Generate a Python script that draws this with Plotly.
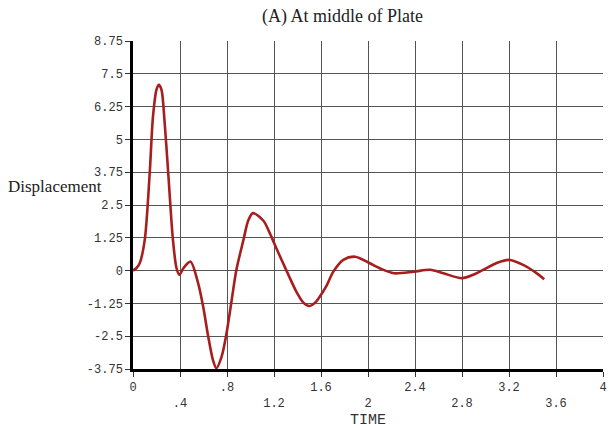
import plotly.graph_objects as go

# Data
time = [0, 0.03, 0.057, 0.1, 0.142, 0.17, 0.2, 0.22, 0.242, 0.27, 0.3, 0.34, 0.37,
        0.395, 0.43, 0.49, 0.554, 0.597, 0.64, 0.68, 0.71, 0.754, 0.796, 0.84, 0.88,
        0.94, 0.98, 1.02, 1.11, 1.165, 1.22, 1.31, 1.39, 1.45, 1.5, 1.55, 1.59, 1.65,
        1.705, 1.79, 1.89, 2.015, 2.1, 2.22, 2.39, 2.53, 2.64, 2.8, 2.9, 2.98, 3.1,
        3.2, 3.32, 3.42, 3.5]
displacement = [0, 0.1, 0.28, 1.17, 3.7, 5.87, 6.9, 7.08, 6.9, 5.6, 3.7, 1.17, 0.1,
                -0.16, 0.1, 0.34, -0.48, -1.37, -2.51, -3.4, -3.72, -3.28, -2.39, -1.12, 0.03,
                1.17, 1.9, 2.19, 1.9, 1.42, 0.85, -0.04, -0.8, -1.22, -1.35, -1.22, -0.99, -0.55,
                -0.04, 0.41, 0.53, 0.28, 0.09, -0.1, -0.04, 0.03, -0.1, -0.29, -0.15, 0.03, 0.3,
                0.41, 0.22, -0.05, -0.33]

x_tickvals = [0, 0.4, 0.8, 1.2, 1.6, 2.0, 2.4, 2.8, 3.2, 3.6, 4.0]
x_ticklabels = ["0", ".4", ".8", "1.2", "1.6", "2", "2.4", "2.8", "3.2", "3.6", "4"]
y_tickvals = [-3.75, -2.5, -1.25, 0, 1.25, 2.5, 3.75, 5, 6.25, 7.5, 8.75]
y_ticklabels = ["-3.75", "-2.5", "-1.25", "0", "1.25", "2.5", "3.75", "5", "6.25", "7.5", "8.75"]

# alternate x labels on two rows
x_ticktext = [lab if i % 2 == 0 else "<br>" + lab for i, lab in enumerate(x_ticklabels)]

fig = go.Figure()
fig.add_trace(go.Scatter(
    x=time, y=displacement, mode="lines",
    line=dict(color="#a61e1e", width=2.6, shape="spline", smoothing=0.8),
    showlegend=False, hoverinfo="skip"))

mono = "Liberation Mono, Courier New, monospace"
serif = "Liberation Serif, Times New Roman, serif"

fig.update_layout(
    width=609, height=428,
    margin=dict(l=133, r=6, t=41, b=59),
    paper_bgcolor="white", plot_bgcolor="white",
    xaxis=dict(
        range=[0, 4], tickvals=x_tickvals, ticktext=x_ticktext,
        showgrid=True, gridcolor="#555555", gridwidth=1,
        showline=True, linecolor="black", linewidth=2.5,
        ticks="outside", ticklen=5, tickcolor="#333333", tickwidth=1,
        tickfont=dict(family=mono, size=12, color="#333333"),
        zeroline=False, automargin=False,
    ),
    yaxis=dict(
        range=[-3.75, 8.75], tickvals=y_tickvals, ticktext=y_ticklabels,
        showgrid=True, gridcolor="#555555", gridwidth=1,
        showline=True, linecolor="black", linewidth=2.5,
        ticks="outside", ticklen=5, tickcolor="#333333", tickwidth=1,
        tickfont=dict(family=mono, size=12, color="#333333"),
        zeroline=False, automargin=False,
    ),
    annotations=[
        dict(text="(A) At middle of Plate", xref="paper", yref="paper",
             x=(342 - 133) / 470, y=1, yshift=25, xanchor="center", yanchor="middle",
             showarrow=False, font=dict(family=serif, size=18, color="#222222")),
        dict(text="Displacement", xref="paper", yref="paper",
             x=(6 - 133) / 470, y=(369 - 187) / 328, xanchor="left", yanchor="middle",
             showarrow=False, font=dict(family=serif, size=17, color="#222222")),
        dict(text="TIME", xref="paper", yref="paper",
             x=(368 - 133) / 470, y=0, yshift=-51, xanchor="center", yanchor="middle",
             showarrow=False, font=dict(family=mono, size=15, color="#333333")),
    ],
)

fig.write_html("out.html", config={"displayModeBar": False},
               post_script="document.body.style.margin='0';")
